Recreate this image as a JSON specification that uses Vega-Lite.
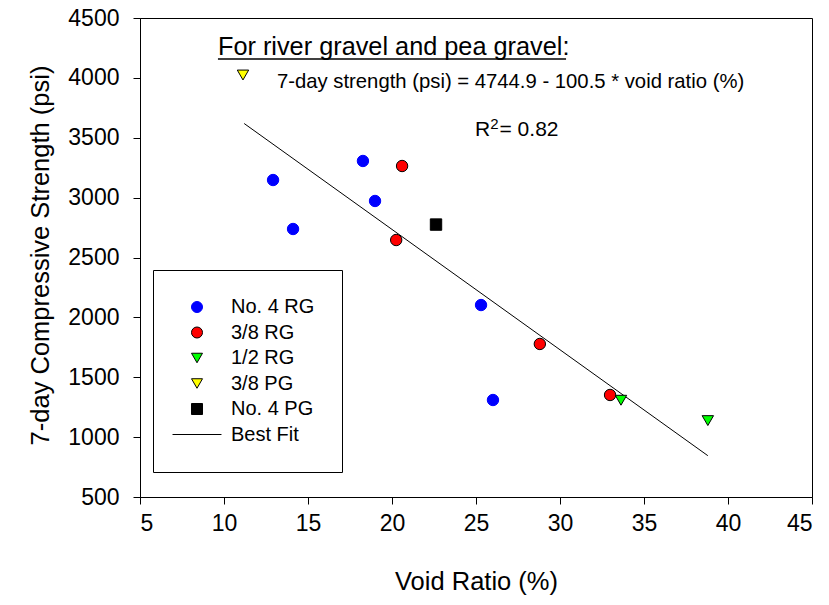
{
  "$schema": "https://vega.github.io/schema/vega-lite/v6.json",
  "width": 672,
  "height": 479,
  "autosize": "none",
  "padding": {"left": 140, "top": 18, "right": 17, "bottom": 108},
  "background": "white",
  "config": {
    "font": "Liberation Sans",
    "view": {"stroke": "black", "strokeWidth": 1},
    "axis": {"grid": false, "domainColor": "black", "tickColor": "black", "labelColor": "black", "titleColor": "black", "labelFont": "Liberation Sans", "titleFont": "Liberation Sans", "titleFontWeight": "normal", "labelFontSize": 23, "titleFontSize": 25.5, "tickSize": 7, "domainWidth": 1, "tickWidth": 1}
  },
  "datasets": {
    "points": [
      {"series": "No. 4 RG", "void": 12.92, "strength": 3147},
      {"series": "No. 4 RG", "void": 14.11, "strength": 2738},
      {"series": "No. 4 RG", "void": 18.27, "strength": 3306},
      {"series": "No. 4 RG", "void": 18.99, "strength": 2972},
      {"series": "No. 4 RG", "void": 25.3, "strength": 2103},
      {"series": "No. 4 RG", "void": 26.01, "strength": 1310},
      {"series": "3/8 RG", "void": 20.6, "strength": 3264},
      {"series": "3/8 RG", "void": 20.25, "strength": 2646},
      {"series": "3/8 RG", "void": 28.8, "strength": 1778},
      {"series": "3/8 RG", "void": 32.98, "strength": 1352},
      {"series": "1/2 RG", "void": 33.63, "strength": 1308},
      {"series": "1/2 RG", "void": 38.8, "strength": 1138},
      {"series": "3/8 PG", "void": 11.13, "strength": 4024},
      {"series": "No. 4 PG", "void": 22.62, "strength": 2775}
    ],
    "fit": [
      {"void": 11.2, "strength": 3619},
      {"void": 38.8, "strength": 845}
    ]
  },
  "layer": [
    {
      "data": {"name": "fit"},
      "mark": {"type": "line", "color": "black", "strokeWidth": 1},
      "encoding": {
        "x": {"field": "void", "type": "quantitative", "scale": {"domain": [5, 45], "nice": false, "zero": false},
          "axis": {"values": [5, 10, 15, 20, 25, 30, 35, 40, 45], "format": "d", "title": "Void Ratio (%)", "labelPadding": 8, "titleY": 92, "titleBaseline": "alphabetic"}},
        "y": {"field": "strength", "type": "quantitative", "scale": {"domain": [500, 4500], "nice": false, "zero": false},
          "axis": {"values": [500, 1000, 1500, 2000, 2500, 3000, 3500, 4000, 4500], "format": "d", "title": "7-day Compressive Strength (psi)", "labelPadding": 14, "titleX": -100, "titleY": 237, "titleBaseline": "middle", "titleAngle": -90}}
      }
    },
    {
      "data": {"name": "points"},
      "mark": {"type": "point", "filled": true, "opacity": 1, "size": 130, "strokeWidth": 1},
      "encoding": {
        "x": {"field": "void", "type": "quantitative"},
        "y": {"field": "strength", "type": "quantitative"},
        "fill": {"field": "series", "type": "nominal",
          "scale": {"domain": ["No. 4 RG", "3/8 RG", "1/2 RG", "3/8 PG", "No. 4 PG", "Best Fit"], "range": ["#0000ff", "#ff0000", "#00ff00", "#ffff00", "#000000", "transparent"]},
          "legend": {"title": null, "orient": "none", "legendX": 13, "legendY": 252, "strokeColor": "black", "fillColor": "white", "padding": 27, "symbolOffset": 7, "labelOffset": 24, "rowPadding": 5.5, "labelFontSize": 20, "labelFont": "Liberation Sans", "labelColor": "black", "symbolSize": 121, "symbolStrokeWidth": 1, "labelLimit": 300}},
        "stroke": {"field": "series", "type": "nominal",
          "scale": {"domain": ["No. 4 RG", "3/8 RG", "1/2 RG", "3/8 PG", "No. 4 PG", "Best Fit"], "range": ["#0000ff", "#000000", "#000000", "#000000", "#000000", "#000000"]}},
        "shape": {"field": "series", "type": "nominal",
          "scale": {"domain": ["No. 4 RG", "3/8 RG", "1/2 RG", "3/8 PG", "No. 4 PG", "Best Fit"], "range": ["circle", "circle", "triangle-down", "triangle-down", "square", "M-4.45,0L4.45,0"]}}
      }
    },
    {
      "data": {"values": [{"label": "For river gravel and pea gravel:"}]},
      "mark": {"type": "text", "align": "left", "baseline": "alphabetic", "fontSize": 25.3, "color": "black"},
      "encoding": {"x": {"datum": 9.64, "type": "quantitative"}, "y": {"datum": 4191, "type": "quantitative"}, "text": {"field": "label"}}
    },
    {
      "data": {"values": [{"label": "underline"}]},
      "mark": {"type": "rule", "color": "black", "strokeWidth": 1.5},
      "encoding": {"x": {"datum": 9.64, "type": "quantitative"}, "x2": {"datum": 30.36}, "y": {"datum": 4158, "type": "quantitative"}}
    },
    {
      "data": {"values": [{"label": "7-day strength (psi) = 4744.9 - 100.5 * void ratio (%)"}]},
      "mark": {"type": "text", "align": "left", "baseline": "alphabetic", "fontSize": 20.3, "color": "black"},
      "encoding": {"x": {"datum": 13.15, "type": "quantitative"}, "y": {"datum": 3915, "type": "quantitative"}, "text": {"field": "label"}}
    },
    {
      "data": {"values": [{"label": "R"}]},
      "mark": {"type": "text", "align": "left", "baseline": "alphabetic", "fontSize": 21, "color": "black"},
      "encoding": {"x": {"datum": 24.94, "type": "quantitative"}, "y": {"datum": 3515, "type": "quantitative"}, "text": {"field": "label"}}
    },
    {
      "data": {"values": [{"label": "2"}]},
      "mark": {"type": "text", "align": "left", "baseline": "alphabetic", "fontSize": 15, "color": "black"},
      "encoding": {"x": {"datum": 25.85, "type": "quantitative"}, "y": {"datum": 3570, "type": "quantitative"}, "text": {"field": "label"}}
    },
    {
      "data": {"values": [{"label": "= 0.82"}]},
      "mark": {"type": "text", "align": "left", "baseline": "alphabetic", "fontSize": 21, "color": "black"},
      "encoding": {"x": {"datum": 26.4, "type": "quantitative"}, "y": {"datum": 3515, "type": "quantitative"}, "text": {"field": "label"}}
    }
  ]
}
